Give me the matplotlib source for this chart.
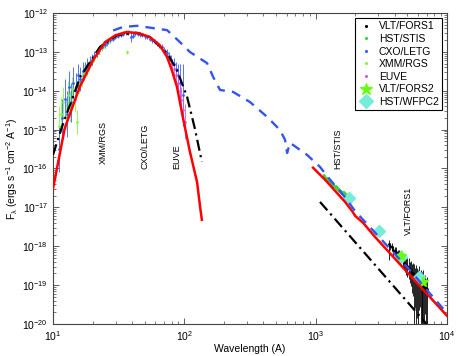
import numpy as np
import matplotlib
matplotlib.use("Agg")
import matplotlib.pyplot as plt
from matplotlib.lines import Line2D

plt.rcParams['font.family'] = ['Liberation Sans', 'DejaVu Sans']
plt.rcParams['mathtext.fontset'] = 'custom'
plt.rcParams['mathtext.rm'] = 'Liberation Sans'
plt.rcParams['mathtext.it'] = 'Liberation Sans:italic'
plt.rcParams['mathtext.default'] = 'regular'

# ---------------- data (wavelength in A, log10 flux) ----------------
letg_wl = [11.2, 11.8, 12.3, 12.8, 13.3, 13.8, 14.3, 14.9, 15.5, 16.1,
           16.8, 17.5, 18.2, 19.0, 19.8, 20.7, 21.6, 22.6, 23.6, 24.7,
           25.9, 27.1, 28.4, 29.8, 31.2, 32.7, 34.2, 35.8, 37.4, 39.0,
           40.6, 42.3, 44.1, 46.0, 48.0, 50.0, 52.2, 54.5, 56.9, 59.4,
           62.0, 64.7, 67.5, 70.4, 73.4, 76.5, 79.7, 83.0, 86.4, 89.9,
           93.5, 97.2]
letg_logf = [-15.5, -14.7, -14.2, -14.6, -13.9, -14.3, -13.8, -13.9, -13.6, -13.7,
             -13.5, -13.45, -13.35, -13.25, -13.2, -13.1, -13.02, -12.95, -12.88, -12.82,
             -12.76, -12.7, -12.66, -12.62, -12.58, -12.56, -12.53, -12.5, -12.5, -12.62,
             -12.58, -12.52, -12.54, -12.55, -12.57, -12.6, -12.62, -12.66, -12.7, -12.74,
             -12.78, -12.83, -12.88, -12.95, -13.02, -13.1, -13.2, -13.32, -13.45, -13.6,
             -13.8, -14.1]
letg_err = [0.6, 0.5, 0.5, 0.6, 0.4, 0.5, 0.4, 0.35, 0.3, 0.3,
            0.25, 0.2, 0.2, 0.15, 0.15, 0.12, 0.1, 0.1, 0.08, 0.08,
            0.07, 0.07, 0.06, 0.06, 0.06, 0.06, 0.06, 0.06, 0.06, 0.12,
            0.06, 0.06, 0.06, 0.06, 0.06, 0.06, 0.06, 0.06, 0.06, 0.07,
            0.07, 0.07, 0.08, 0.08, 0.1, 0.1, 0.12, 0.15, 0.2, 0.3,
            0.5, 0.8]

rgs_wl = [11.2, 11.6, 12.0, 12.5, 13.0, 13.5, 14.0, 14.6, 15.2, 15.8,
          16.5, 17.2, 18.0, 18.8, 19.7, 20.6, 21.5, 22.5, 23.5, 24.6,
          25.7, 26.9, 28.1, 29.4, 30.7, 32.1, 33.5, 35.0, 36.7, 38.0]
rgs_logf = [-14.9, -14.6, -14.3, -14.6, -14.1, -14.4, -13.95, -14.2, -14.8, -13.8,
            -13.7, -13.55, -13.45, -13.35, -13.25, -13.15, -13.05, -12.98, -12.9, -12.84,
            -12.78, -12.72, -12.67, -12.62, -12.58, -12.55, -12.52, -12.5, -13.0, -12.5]
rgs_err = [0.5, 0.45, 0.4, 0.4, 0.35, 0.4, 0.3, 0.35, 0.3, 0.25,
           0.2, 0.2, 0.18, 0.15, 0.12, 0.1, 0.1, 0.08, 0.08, 0.07,
           0.07, 0.06, 0.06, 0.06, 0.05, 0.05, 0.05, 0.05, 0.05, 0.05]

euve_wl = [74, 77, 80, 83, 86, 89, 92, 95, 98, 101]
euve_logf = [-13.1, -13.2, -13.3, -13.45, -13.6, -13.8, -14.0, -14.25, -14.5, -14.8]
euve_err = [0.1, 0.1, 0.12, 0.15, 0.2, 0.25, 0.3, 0.35, 0.4, 0.45]

stis_wl = [1150, 1180, 1210, 1240, 1270, 1300, 1330, 1360, 1390, 1420,
           1450, 1480, 1510, 1540, 1570, 1600, 1630, 1660, 1690]
stis_logf = [-16.2, -16.24, -16.27, -16.31, -16.33, -16.37, -16.39, -16.43, -16.45, -16.48,
             -16.5, -16.52, -16.55, -16.57, -16.6, -16.62, -16.64, -16.66, -16.68]
stis_err = [0.06, 0.05, 0.05, 0.05, 0.05, 0.05, 0.05, 0.05, 0.05, 0.05,
            0.05, 0.05, 0.05, 0.05, 0.05, 0.05, 0.05, 0.06, 0.06]

fors1_wl = [3600, 3700, 3800, 3900, 4000, 4100, 4200, 4300, 4400, 4500,
            4600, 4700, 4800, 4900, 5000, 5100, 5200, 5300, 5400, 5500,
            5600, 5700, 5800, 5900, 6000, 6100, 6200, 6300, 6400, 6500,
            6600, 6700, 6800, 6900, 7000]
fors1_logf = [-17.95, -18.0, -18.02, -18.1, -18.12, -18.15, -18.2, -18.22, -18.28, -18.3,
              -18.35, -18.42, -18.45, -18.5, -18.5, -18.55, -18.6, -18.62, -18.7, -18.68,
              -18.75, -18.8, -18.78, -18.85, -18.9, -18.85, -18.95, -18.92, -19.0, -19.05,
              -18.95, -19.1, -19.05, -19.15, -19.1]
fors1_errlo = [0.4, 0.1, 0.1, 0.15, 0.1, 0.15, 0.1, 0.15, 0.15, 0.15,
               0.2, 0.2, 0.2, 0.25, 0.3, 0.3, 0.35, 0.4, 0.5, 0.6,
               1.5, 0.8, 2.0, 1.0, 2.0, 0.8, 0.6, 1.2, 2.0, 0.9,
               2.0, 1.0, 0.7, 0.8, 2.0]
fors1_errhi = [0.1, 0.08, 0.1, 0.1, 0.1, 0.12, 0.1, 0.12, 0.12, 0.15,
               0.15, 0.15, 0.2, 0.2, 0.2, 0.25, 0.2, 0.25, 0.25, 0.25,
               0.3, 0.25, 0.3, 0.3, 0.3, 0.35, 0.3, 0.3, 0.35, 0.3,
               0.35, 0.3, 0.3, 0.3, 0.3]

fors2_wl = [4450, 6550]
fors2_logf = [-18.25, -18.92]

wfpc2_wl = [1795, 3040, 4470, 6130]
wfpc2_logf = [-16.76, -17.60, -18.27, -18.79]

# ---------------- model curves ----------------
red_xray_wl = [10, 12.3, 16, 20.2, 24.9, 30, 36.7, 45, 54.8, 65, 73.8, 80, 87.9, 97.7, 110, 125, 132, 136]
red_xray_logf = [-16.52, -14.96, -13.9, -13.21, -12.75, -12.57, -12.49, -12.52, -12.62, -12.83,
                 -13.13, -13.45, -13.90, -14.7, -15.55, -16.35, -17.0, -17.32]
red_opt_wl = [955, 1180, 1675, 1900, 2000, 2300, 2832, 10000]
red_opt_logf = [-15.98, -16.29, -16.86, -17.1, -17.22, -17.40, -17.76, -19.79]

black_xray_wl = [10, 11.7, 16.1, 22.8, 30.7, 43.6, 54.8, 73.8, 87.9, 105, 120, 136]
black_xray_logf = [-15.65, -14.93, -13.65, -12.87, -12.57, -12.51, -12.62, -13.03, -13.47, -14.16, -14.96, -15.83]
black_opt_wl = [1079, 7000]
black_opt_logf = [-16.86, -20.0]

blue_wl = [28.7, 34.1, 43.6, 73.8, 92.7, 110, 149, 166, 187, 235, 316, 426, 535, 584, 606, 638,
           860, 1079, 1288, 1675, 2000, 2832, 4000, 5240, 7000, 10000]
blue_logf = [-12.45, -12.36, -12.33, -12.44, -12.75, -13.0, -13.29, -13.65, -13.98, -14.03, -14.29,
             -14.67, -15.01, -15.26, -15.6, -15.34, -15.65, -15.96, -16.29, -16.74, -17.10, -17.65,
             -18.2, -18.62, -19.12, -19.72]

legend_labels = ['VLT/FORS1', 'HST/STIS', 'CXO/LETG', 'XMM/RGS', 'EUVE', 'VLT/FORS2', 'HST/WFPC2']

c_letg = '#3a5cff'
c_rgs = '#7cfc3c'
c_stis = '#3ed23e'
c_euve = '#c060f0'
c_fors2 = '#66ff11'
c_wfpc2 = '#78ecd8'

fig = plt.figure(figsize=(4.58, 3.56), dpi=100)
ax = fig.add_axes([0.1157, 0.0899, 0.8603, 0.8736])


def ebar(wl, logf, elo, ehi, color, ms=2.0, elw=0.6, zorder=2):
    wl = np.asarray(wl, float)
    f = 10.0 ** np.asarray(logf, float)
    lo = f - 10.0 ** (np.asarray(logf) - np.asarray(elo))
    hi = 10.0 ** (np.asarray(logf) + np.asarray(ehi)) - f
    ax.errorbar(wl, f, yerr=[lo, hi], fmt='.', color=color, ms=ms,
                elinewidth=elw, capsize=0, zorder=zorder)

ebar(rgs_wl, rgs_logf, rgs_err, rgs_err, c_rgs)
ebar(letg_wl, letg_logf, letg_err, letg_err, c_letg)
ebar(euve_wl, euve_logf, euve_err, euve_err, c_euve)
ebar(stis_wl, stis_logf, stis_err, stis_err, c_stis, ms=3, elw=1.2)
ebar(fors1_wl, fors1_logf, fors1_errlo, fors1_errhi, 'black', ms=2, elw=0.6)
ax.plot(fors1_wl, 10.0 ** np.array(fors1_logf), color='black', lw=0.6, zorder=2)

ax.plot(wfpc2_wl, 10.0 ** np.array(wfpc2_logf), 'D', color=c_wfpc2, ms=6, mec=c_wfpc2, zorder=3)
ax.plot(fors2_wl, 10.0 ** np.array(fors2_logf), '*', color=c_fors2, ms=8, mec=c_fors2, zorder=3)

# model curves
ax.plot(black_xray_wl, 10.0 ** np.array(black_xray_logf), color='black', lw=1.6,
        ls=(0, (5, 2, 1, 2)), zorder=4)
ax.plot(black_opt_wl, 10.0 ** np.array(black_opt_logf), color='black', lw=1.6,
        ls=(0, (5, 2, 1, 2)), zorder=4)
ax.plot(red_xray_wl, 10.0 ** np.array(red_xray_logf), color='#ff0000', lw=1.8, zorder=5)
ax.plot(red_opt_wl, 10.0 ** np.array(red_opt_logf), color='#ff0000', lw=1.8, zorder=5)
ax.plot(blue_wl, 10.0 ** np.array(blue_logf), color='#3355ee', lw=1.7,
        ls=(0, (4, 3)), zorder=6)

ax.set_xscale('log')
ax.set_yscale('log')
ax.set_xlim(10, 1e4)
ax.set_ylim(1e-20, 1e-12)
ax.set_yticks([10.0 ** k for k in range(-20, -11)])
ax.tick_params(which='both', direction='in', top=True, right=True, labelsize=7.5,
               color='#444444')
ax.tick_params(which='major', length=4, width=0.6)
ax.tick_params(which='minor', length=2, width=0.5)
for s in ax.spines.values():
    s.set_color('#444444')
    s.set_linewidth(0.8)

ax.set_xlabel('Wavelength (A)', fontsize=7.5, labelpad=1)
ax.set_ylabel(r'F$_{\lambda}$ (ergs s$^{-1}$ cm$^{-2}$ A$^{-1}$)', fontsize=7.5, labelpad=2)

ann = dict(rotation=90, ha='center', va='center', fontsize=6.5)
ax.text(24.0, 10 ** -15.34, 'XMM/RGS', **ann)
ax.text(50.3, 10 ** -15.44, 'CXO/LETG', **ann)
ax.text(88.0, 10 ** -15.70, 'EUVE', **ann)
ax.text(1483, 10 ** -15.50, 'HST/STIS', **ann)
ax.text(5060, 10 ** -17.09, 'VLT/FORS1', **ann)

handles = [
    Line2D([], [], ls='none', marker='.', ms=2.5, color='black'),
    Line2D([], [], ls='none', marker='.', ms=2.5, color=c_stis),
    Line2D([], [], ls='none', marker='.', ms=2.5, color=c_letg),
    Line2D([], [], ls='none', marker='.', ms=2.5, color=c_rgs),
    Line2D([], [], ls='none', marker='.', ms=2.5, color=c_euve),
    Line2D([], [], ls='none', marker='*', ms=9, color=c_fors2),
    Line2D([], [], ls='none', marker='D', ms=7, color=c_wfpc2),
]
leg = ax.legend(handles, legend_labels, loc='upper right', fontsize=7.5, frameon=True,
                fancybox=False, edgecolor='black', framealpha=1, borderpad=0.3,
                handletextpad=0.4, labelspacing=0.25, handlelength=1.6,
                borderaxespad=0.5)
leg.get_frame().set_linewidth(0.8)

fig.savefig('out.png', dpi=100)
